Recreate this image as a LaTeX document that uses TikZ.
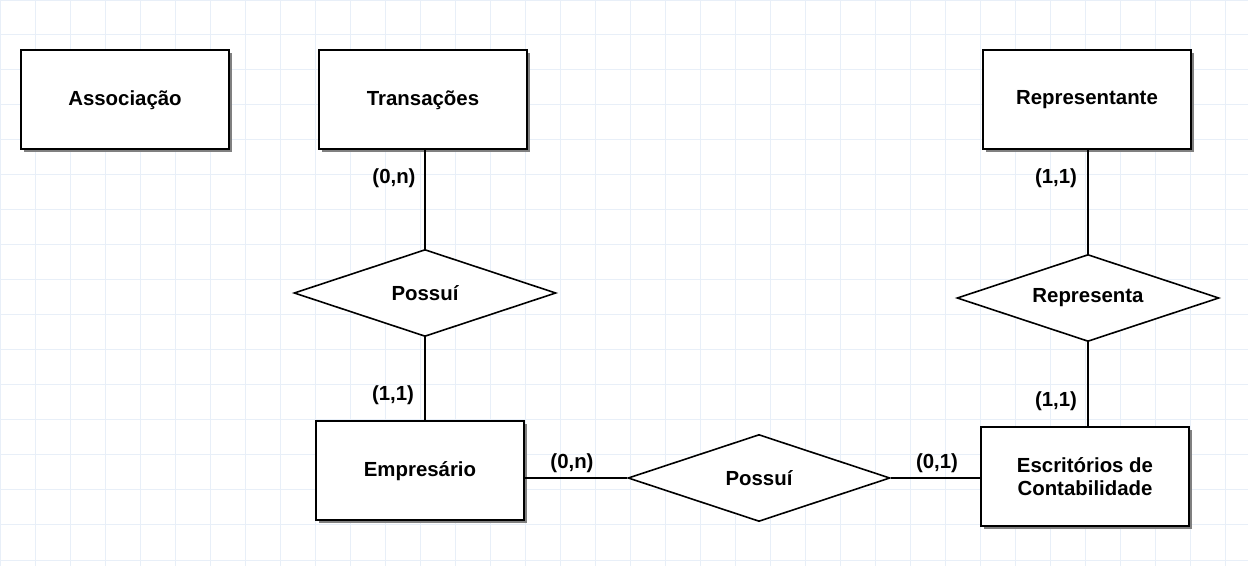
\documentclass[tikz,border=0pt]{standalone}
\usepackage{fontspec}
\setmainfont{Liberation Sans}
\usetikzlibrary{positioning, shapes.geometric, shadows}
\definecolor{gridblue}{HTML}{E8EFF8}
\definecolor{shadowgray}{HTML}{808080}

\begin{document}
\begin{tikzpicture}[
    x=0.5pt, y=-0.5pt,
    every node/.style={font=\fontsize{10.2}{11.6}\selectfont\bfseries},
    entity/.style={rectangle, draw=black, line width=1pt, fill=white, minimum width=104pt, minimum height=49.5pt, align=center,
        drop shadow={shadow xshift=1.5pt, shadow yshift=-1.5pt, fill=shadowgray, opacity=1}},
    rel/.style={diamond, draw=black, line width=0.8pt, fill=white, aspect=3, inner sep=0pt, minimum width=131pt, minimum height=43.5pt},
    link/.style={draw=black, line width=0.8pt},
    card/.style={inner sep=0pt},
    gridline/.style={draw=gridblue, line width=0.5pt}
]
\useasboundingbox (0,0) rectangle (1248,566);
\fill[white] (0,0) rectangle (1248,566);
\draw[gridline, step=17.5pt] (0,0) grid (1248,566);

% Entities
\node[entity] (assoc) at (125,100)  {Associação};
\node[entity] (trans) at (423,100)  {Transações};
\node[entity] (repr)  at (1087,100) {Representante};
\node[entity] (emp)   at (420,471)  {Empresário};
\node[entity] (esc)   at (1085,477) {Escritórios de\\Contabilidade};

% Relationships
\node[rel] (possA) at (425,293)  {Possuí};
\node[rel] (repta) at (1088,298) {Representa};
\node[rel] (possB) at (759,478)  {Possuí};

% Transacoes - Empresario
\draw[link] (possA.north |- trans.south) -- (possA.north);
\draw[link] (possA.south) -- (possA.south |- emp.north);
\node[card] (cTrans) at (394,178) {(0,n)};
\node[card] (cEmpA)  at (393,395) {(1,1)};

% Representante - Escritorios
\draw[link] (repta.north |- repr.south) -- (repta.north);
\draw[link] (repta.south) -- (repta.south |- esc.north);
\node[card] (cRepr) at (1056,178) {(1,1)};
\node[card] (cEscA) at (1056,401) {(1,1)};

% Empresario - Escritorios
\draw[link] (possB.west -| emp.east) -- (possB.west);
\draw[link] (possB.east) -- (possB.east -| esc.west);
\node[card] (cEmpB) at (572,463) {(0,n)};
\node[card] (cEscB) at (937,463) {(0,1)};
\end{tikzpicture}
\end{document}
